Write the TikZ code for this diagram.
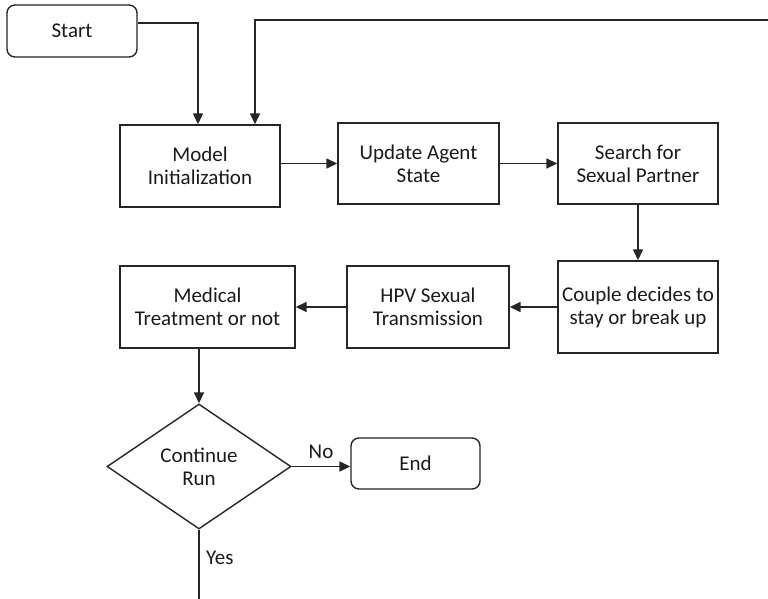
\documentclass[tikz,border=0pt]{standalone}
\usepackage{fontspec}
\setmainfont{Carlito}
\usetikzlibrary{shapes.geometric,arrows.meta}
\definecolor{edge}{HTML}{262626}
\definecolor{ink}{HTML}{1A1A1A}
\begin{document}
\begin{tikzpicture}[x=1pt,y=-1pt,
  every node/.style={font=\fontsize{21}{23}\selectfont, text=ink, align=center},
  procbox/.style={draw=edge, line width=1.4pt, inner sep=0pt},
  termbox/.style={draw=edge, line width=1.4pt, rounded corners=8pt, inner sep=0pt,
    minimum width=130pt, minimum height=52pt},
  decbox/.style={draw=edge, line width=1.4pt, diamond, inner sep=0pt,
    minimum width=184pt, minimum height=125pt},
  flow/.style={draw=edge, line width=1.5pt, -{Triangle[length=11pt,width=10pt]}},
  plain/.style={draw=edge, line width=1.5pt}]
\useasboundingbox (0,0) rectangle (768,599);

% terminals
\node[termbox] (start) at (72,31) {Start};
\node[termbox, minimum width=129pt, minimum height=51pt] (end) at (415.5,463.5) {End};

% process steps
\node[procbox, minimum width=160pt, minimum height=82pt] (model) at (200,166) {Model\\Initialization};
\node[procbox, minimum width=161pt, minimum height=81pt] (update) at (418.5,163.5) {Update Agent\\State};
\node[procbox, minimum width=160pt, minimum height=81pt] (search) at (638,163.5) {Search for\\Sexual Partner};
\node[procbox, minimum width=160pt, minimum height=92pt] (couple) at (638,307) {Couple decides to\\stay or break up};
\node[procbox, minimum width=162pt, minimum height=82pt] (hpv) at (428,307) {HPV Sexual\\Transmission};
\node[procbox, minimum width=175pt, minimum height=82pt] (medical) at (207.5,307) {Medical\\Treatment or not};

% decision
\node[decbox] (dec) at (199,466.5) {Continue\\Run};

% loop ends beyond the frame
\coordinate (loopin) at (768,20);
\coordinate (yesout) at (199,599);

% connectors
\draw[flow] ([yshift=8pt]start.east) -| ([xshift=-2pt]model.north);
\draw[flow] (loopin) -| ([xshift=55pt]model.north);
\draw[flow] (model.east |- update.west) -- (update.west);
\draw[flow] (update.east) -- (search.west);
\draw[flow] (search.south) -- (couple.north);
\draw[flow] (couple.west |- hpv.east) -- (hpv.east);
\draw[flow] (hpv.west) -- (medical.east);
\draw[flow] (medical.south -| dec.north) -- (dec.north);
\draw[flow] (dec.east) -- (dec.east -| end.west) node[midway, above=4pt] {No};
\draw[plain] (dec.south) -- (yesout) node[pos=0.4, right=3pt] {Yes};
\end{tikzpicture}
\end{document}
